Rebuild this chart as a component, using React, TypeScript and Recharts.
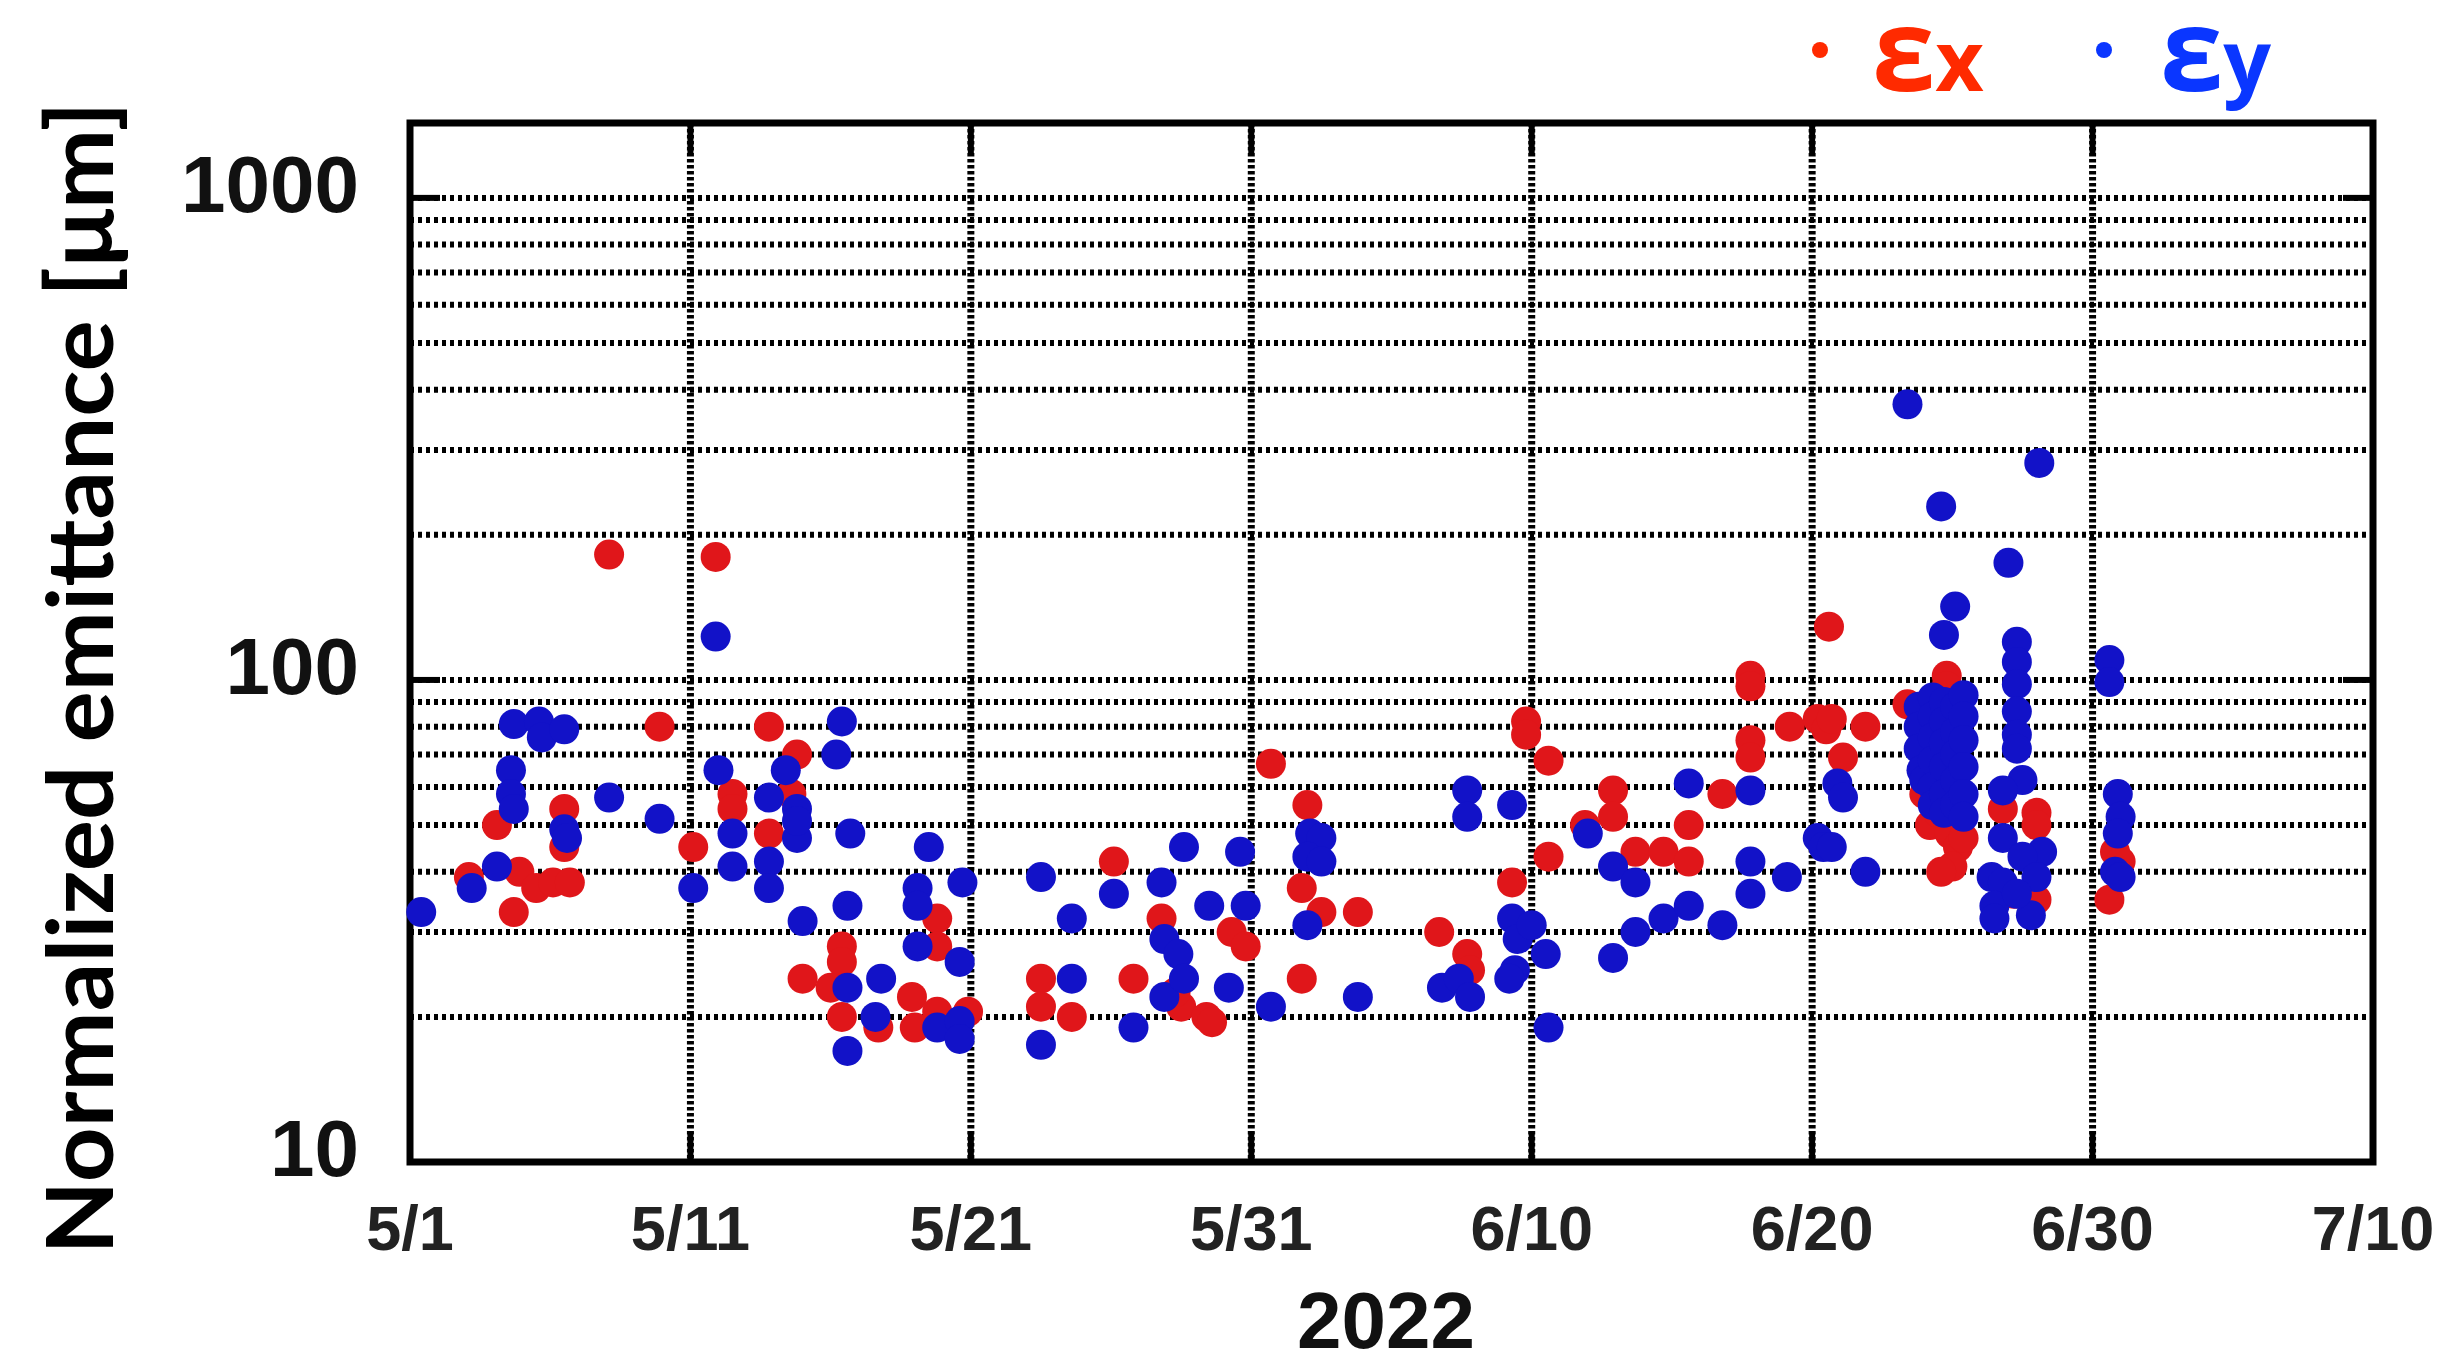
import React from "react";
import { ScatterChart, Scatter, XAxis, YAxis, CartesianGrid, ReferenceArea } from "recharts";

// days since 5/1 (2022), normalized emittance in um
const ex: [number, number][] = [
  [2.1, 39], [3.1, 50], [3.7, 33], [3.9, 40], [4.5, 37], [5.1, 38], [5.7, 38], [5.5, 54], [5.5, 45],
  [7.1, 182], [8.9, 80], [10.1, 45], [10.9, 180],
  [11.5, 58], [11.5, 54], [12.8, 80], [13.8, 70], [12.8, 48], [13.6, 58], [14.0, 24],
  [15.4, 28], [15.4, 26], [15.0, 23], [15.4, 20], [16.7, 19], [18.8, 32], [18.8, 28],
  [17.9, 22], [18.0, 19], [18.8, 20.5], [19.9, 20.5],
  [22.5, 24], [22.5, 21], [23.6, 20], [25.1, 42], [25.8, 24], [26.8, 32], [27.5, 21], [27.3, 22.5],
  [28.4, 20], [28.6, 19.5], [29.3, 30], [29.8, 28], [30.7, 67], [32.0, 55], [31.8, 37], [32.5, 33],
  [31.8, 24], [33.8, 33],
  [36.7, 30], [37.7, 27], [37.8, 25], [39.8, 82], [39.8, 77], [40.6, 68], [39.3, 38], [40.6, 43],
  [41.9, 50], [42.9, 59], [42.9, 52], [43.7, 44], [44.7, 44], [45.6, 50], [45.6, 42],
  [46.8, 58], [47.8, 102], [47.8, 97], [47.8, 75], [47.8, 69], [49.2, 80], [50.2, 83], [50.5, 79],
  [50.6, 129], [50.7, 83], [51.1, 69], [51.9, 80], [53.4, 89], [54.8, 102], [54.8, 97],
  [54.0, 58], [54.2, 50], [54.9, 48], [55.2, 45], [55.0, 41], [54.6, 40], [55.4, 47], [54.5, 53],
  [56.8, 54], [58.0, 53], [58.0, 50], [57.2, 36], [58.0, 35],
  [60.8, 44], [61.0, 42], [60.6, 35],
];

const ey: [number, number][] = [
  [0.4, 33], [2.2, 37], [3.1, 41], [3.6, 65], [3.6, 58], [3.7, 54], [3.7, 81], [4.6, 82], [4.7, 76],
  [5.5, 79], [5.5, 49], [5.6, 47], [7.1, 57], [8.9, 51.5], [10.1, 37], [10.9, 123], [11.0, 65],
  [11.5, 48], [11.5, 41], [13.4, 65], [12.8, 57], [13.8, 54], [13.8, 47], [12.8, 42], [13.8, 51],
  [12.8, 37], [15.4, 82], [15.2, 70], [15.7, 48], [14.0, 31.6], [15.6, 34], [15.6, 23], [15.6, 17],
  [16.8, 24], [16.6, 20], [18.5, 45], [18.1, 37], [18.1, 34], [18.1, 28], [19.6, 26], [19.7, 38],
  [18.8, 19], [19.6, 19.6], [19.6, 18], [22.5, 39], [22.5, 17.5],
  [23.6, 24], [23.6, 32], [25.1, 36], [25.8, 19], [27.6, 45], [26.8, 38], [26.9, 29], [27.4, 27],
  [26.9, 22], [27.6, 24], [28.5, 34], [29.2, 23], [29.6, 44], [29.8, 34], [30.7, 21],
  [32.1, 48], [32.5, 47], [32.0, 43], [32.5, 42], [32.0, 31], [33.8, 22],
  [36.8, 23], [37.4, 24], [37.8, 22], [37.7, 59], [37.7, 52], [39.3, 55], [39.3, 32], [39.5, 29],
  [39.4, 25], [39.2, 24], [40.5, 27], [40.0, 31], [40.6, 19], [42.0, 48], [42.9, 26.5], [42.9, 41],
  [43.7, 38], [43.7, 30], [44.7, 32], [45.6, 61], [45.6, 34],
  [46.8, 31], [47.8, 59], [47.8, 42], [47.8, 36], [49.1, 39], [50.2, 47], [50.4, 45], [50.7, 45],
  [50.9, 61], [51.1, 57], [51.9, 40], [53.4, 373], [54.6, 229], [55.1, 142], [54.7, 124],
  [53.8, 88], [53.8, 80], [53.8, 72], [53.9, 65], [54.0, 62],
  [54.3, 92], [54.3, 84], [54.3, 76], [54.3, 68], [54.3, 60], [54.3, 55],
  [54.7, 90], [54.7, 82], [54.7, 74], [54.7, 66], [54.7, 58], [54.7, 53],
  [55.1, 88], [55.1, 78], [55.1, 70], [55.1, 62], [55.1, 55],
  [55.4, 93], [55.4, 84], [55.4, 75], [55.4, 66], [55.4, 58], [55.4, 52],
  [57.0, 175], [58.1, 282],
  [57.3, 120], [57.3, 109], [57.3, 98], [57.3, 86], [57.3, 77], [57.3, 72], [57.5, 62], [56.8, 59],
  [56.8, 47], [58.2, 44], [57.5, 43], [56.4, 39], [56.8, 38], [58.0, 39], [56.5, 34], [56.5, 32],
  [57.8, 32.5], [57.3, 36],
  [60.6, 110], [60.6, 99], [60.9, 58], [61.0, 52], [60.9, 48], [60.8, 40], [61.0, 39],
];

const xTicks = [0, 10, 20, 30, 40, 50, 60, 70];
const xTickLabels = ["5/1", "5/11", "5/21", "5/31", "6/10", "6/20", "6/30", "7/10"];
const yTicks = [10, 100, 1000];
const yGridValues = [20, 30, 40, 50, 60, 70, 80, 90, 100, 200, 300, 400, 500, 600, 700, 800, 900, 1000];
const xGridValues = [10, 20, 30, 40, 50, 60];

const W = 2460;
const H = 1365;
const PL = 410;
const PR = 2373;
const PT = 123;
const PB = 1162;
const TICK = 30;

const RED = "#e0161a";
const BLUE = "#1212c8";

function XTick(props: any) {
  const { x, payload } = props;
  const i = xTicks.indexOf(payload.value);
  return (
    <g>
      <line x1={x} x2={x} y1={PB} y2={PB - TICK} stroke="#000" strokeWidth={6} />
      <line x1={x} x2={x} y1={PT} y2={PT + TICK} stroke="#000" strokeWidth={6} />
      <text x={x} y={1250} textAnchor="middle" fontFamily="'Liberation Sans', Arial, sans-serif"
        fontWeight={700} fontSize={63} fill="#222">
        {xTickLabels[i]}
      </text>
    </g>
  );
}

function YTick(props: any) {
  const { y, payload } = props;
  return (
    <g>
      <line x1={PL} x2={PL + TICK} y1={y} y2={y} stroke="#000" strokeWidth={6} />
      <line x1={PR - TICK} x2={PR} y1={y} y2={y} stroke="#000" strokeWidth={6} />
      <text x={359} y={y + 14} textAnchor="end" fontFamily="'Liberation Sans', Arial, sans-serif"
        fontWeight={700} fontSize={80} fill="#111">
        {payload.value}
      </text>
    </g>
  );
}

// dotted grid lines, drawn by hand so the dash style is kept
const hLine = (p: any) => (
  <line key={p.key ?? `h-${p.y1}`} x1={p.x1} x2={p.x2} y1={p.y1} y2={p.y2}
    stroke="#000" strokeWidth={6} strokeDasharray="4 4" />
);
const vLine = (p: any) => (
  <line key={p.key ?? `v-${p.x1}`} x1={p.x1} x2={p.x2} y1={p.y1} y2={p.y2}
    stroke="#000" strokeWidth={7} strokeDasharray="3.5 2.5" />
);

const dot = (fill: string) => (p: any) => <circle cx={p.cx} cy={p.cy} r={15} fill={fill} />;

export default function App() {
  const exData = ex.map(([day, v]) => ({ day, v }));
  const eyData = ey.map(([day, v]) => ({ day, v }));
  return (
    <div style={{ position: "absolute", left: 0, top: 0, width: W, height: H, background: "#fff", overflow: "hidden" }}>
      <ScatterChart width={W} height={H} margin={{ top: PT, right: W - PR, bottom: H - PB - 150, left: PL - 300 }}>
        <CartesianGrid vertical={false} horizontalValues={yGridValues} horizontal={hLine} />
        <CartesianGrid horizontal={false} verticalValues={xGridValues} vertical={vLine} />
        <XAxis type="number" dataKey="day" domain={[0, 70]} ticks={xTicks} interval={0}
          tick={<XTick />} tickLine={false} axisLine={false} height={150} />
        <YAxis type="number" dataKey="v" scale="log" domain={[10, 1430]} allowDataOverflow
          ticks={yTicks} interval={0} tick={<YTick />} tickLine={false} axisLine={false} width={300} />
        <ReferenceArea x1={0} x2={70} y1={10} y2={1430} fill="none" stroke="#000" strokeWidth={7} ifOverflow="visible" />
        <Scatter data={exData} fill={RED} shape={dot(RED)} isAnimationActive={false} />
        <Scatter data={eyData} fill={BLUE} shape={dot(BLUE)} isAnimationActive={false} />
      </ScatterChart>
      <svg width={W} height={H} style={{ position: "absolute", left: 0, top: 0, pointerEvents: "none" }}>
        <text transform="translate(113,678) rotate(-90)" textAnchor="middle"
          fontFamily="Lato, 'Open Sans', sans-serif" fontWeight={700} fontSize={92} fill="#000"
          textLength={1153} lengthAdjust="spacingAndGlyphs">
          Normalized emittance [μm]
        </text>
        <text x={1386} y={1348} textAnchor="middle" fontFamily="'Liberation Sans', Arial, sans-serif"
          fontWeight={700} fontSize={80} fill="#111">
          2022
        </text>
        <circle cx={1820} cy={50} r={8} fill="#ff2a00" />
        <text x={1872} y={91} fontFamily="'Open Sans', sans-serif" fontWeight={700} fill="#ff2a00">
          <tspan fontSize={114}>ε</tspan>
          <tspan fontSize={84}>x</tspan>
        </text>
        <circle cx={2104} cy={50} r={8} fill="#0a36ff" />
        <text x={2160} y={91} fontFamily="'Open Sans', sans-serif" fontWeight={700} fill="#0a36ff">
          <tspan fontSize={114}>ε</tspan>
          <tspan fontSize={84}>y</tspan>
        </text>
      </svg>
    </div>
  );
}
